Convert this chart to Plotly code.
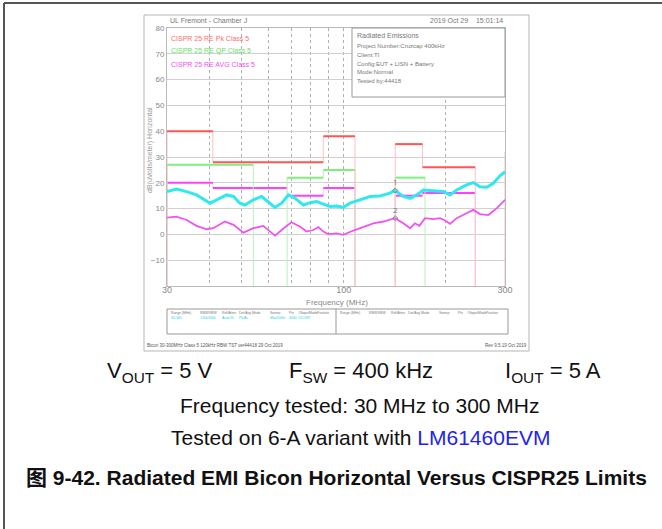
"""Radiated EMI, bicon horizontal, vs CISPR 25 class 5 limits"""
import math
import plotly.graph_objects as go

# --- limit lines (band start MHz, band stop MHz, level dBuV/m) ---
pk_start = [30, 41, 87, 142, 171, 300]
pk_stop = [41, 87, 108, 171, 245, 330]
pk_level = [40, 28, 38, 35, 26, 32]

qp_start = [30, 68, 87, 142]
qp_stop = [54, 87, 108, 174]
qp_level = [27, 22, 25, 22]

avg_start = [30, 41, 68, 87, 142, 171]
avg_stop = [41, 68, 87, 108, 171, 245]
avg_level = [20, 18, 15, 18, 15, 16]

# --- measured peak trace (cyan) ---
peak_freq = [30.0, 32.0, 34.3, 36.7, 39.3, 40.2, 42.1, 45.0, 47.2, 49.3, 51.0,
             54.0, 57.2, 59.8, 62.6, 65.5, 68.6, 71.8, 76.0, 79.5, 83.2, 87.0,
             91.1, 95.3, 99.7, 104.4, 111.7, 119.6, 128.0, 137.0, 141.8, 150.1,
             157.1, 164.4, 172.0, 184.1, 197.1, 206.3, 215.8, 231.1, 241.8,
             253.0, 264.8, 277.1, 290.0, 300.0]
peak_level = [16.6, 17.6, 16.6, 15.3, 12.9, 12.1, 13.4, 15.3, 14.7, 12.1, 11.4,
              13.4, 14.7, 12.7, 10.5, 12.1, 15.3, 14.0, 11.4, 12.3, 12.7, 11.7,
              10.8, 11.0, 10.5, 12.1, 13.4, 14.7, 14.9, 16.0, 17.0, 14.7,
              14.0, 15.3, 17.2, 17.0, 16.6, 15.3, 17.2, 19.2, 20.1,
              18.5, 18.3, 19.8, 22.7, 24.3]

# --- measured average trace (magenta) ---
avg_freq = [30.0, 32.0, 34.3, 36.7, 39.3, 41.1, 44.5, 47.2, 50.5, 54.0, 57.8,
            60.5, 62.6, 65.5, 70.0, 74.3, 77.7, 81.3, 84.1, 87.0, 90.0, 95.3,
            99.7, 106.8, 114.3, 122.3, 131.0, 141.8, 150.1, 157.1, 162.5, 167.4,
            174.0, 184.1, 192.7, 199.4, 206.3, 215.8, 228.4, 241.8, 253.0,
            267.8, 283.4, 300.0]
avg_meas = [6.5, 6.9, 5.6, 3.3, 2.0, 2.4, 5.0, 3.7, 0.7, 2.4, 3.3,
            1.1, -0.5, 1.7, 4.7, 3.0, 1.1, 1.7, 2.8, 1.1, 0.1, 0.4,
            -0.2, 1.5, 3.0, 4.3, 5.0, 6.3, 4.3, 2.4, 4.3, 3.3,
            6.3, 5.9, 6.3, 5.4, 4.1, 6.3, 7.9, 9.5, 7.9,
            7.5, 10.1, 13.4]

# markers 1 and 2
mk_freq = [142, 142]
mk_level = [17.0, 6.3]
mk_label = ["1", "2"]

# x tick labels
x_ticks = [30, 100, 300]

FLOOR = -20
W, H = 662, 529
L, R, T, B = 167, 505, 28, 286   # plot area in pixels


def px(x):
    return (x - L) / (R - L)


def py(y):
    return (B - y) / (B - T)


def step_traces(starts, stops, levels, color, edge_color, name):
    hx, hy, vx, vy = [], [], [], []
    for i in range(len(starts)):
        hx += [starts[i], stops[i], None]
        hy += [levels[i], levels[i], None]
        # rising edge
        if i > 0 and stops[i - 1] == starts[i]:
            vx += [starts[i], starts[i], None]
            vy += [levels[i - 1], levels[i], None]
        else:
            vx += [starts[i], starts[i], None]
            vy += [FLOOR, levels[i], None]
        # falling edge
        if i == len(starts) - 1 or starts[i + 1] != stops[i]:
            vx += [stops[i], stops[i], None]
            vy += [levels[i], FLOOR, None]
    return [
        go.Scatter(x=vx, y=vy, mode="lines", line=dict(color=edge_color, width=1),
                   showlegend=False, hoverinfo="skip"),
        go.Scatter(x=hx, y=hy, mode="lines", line=dict(color=color, width=2),
                   name=name, showlegend=False),
    ]


fig = go.Figure()
for tr in step_traces(avg_start, avg_stop, avg_level, "#ff40ff", "#ffc8ff", "AVG"):
    fig.add_trace(tr)
for tr in step_traces(qp_start, qp_stop, qp_level, "#7ef07e", "#b8f0b8", "QP"):
    fig.add_trace(tr)
for tr in step_traces(pk_start, pk_stop, pk_level, "#ff5555", "#ffc0c0", "Pk"):
    fig.add_trace(tr)

fig.add_trace(go.Scatter(x=peak_freq, y=peak_level, mode="lines",
                         line=dict(color="#30e8ee", width=3), showlegend=False))
fig.add_trace(go.Scatter(x=avg_freq, y=avg_meas, mode="lines",
                         line=dict(color="#ee55ee", width=1.8), showlegend=False))
fig.add_trace(go.Scatter(x=mk_freq, y=mk_level, mode="markers+text",
                         marker=dict(symbol="diamond-open", size=4, color="#888"),
                         text=mk_label, textposition="top center",
                         textfont=dict(size=8, color="#777"), showlegend=False))
# x tick labels drawn just under the axis, as on the analyser plot
fig.add_trace(go.Scatter(x=x_ticks, y=[FLOOR] * len(x_ticks), mode="text",
                         text=[str(v) for v in x_ticks], textposition="bottom center",
                         textfont=dict(family="Liberation Sans", size=9, color="#888"),
                         cliponaxis=False, showlegend=False, hoverinfo="skip"))

x_lo = math.log10(min(x_ticks)) - 1e-6
x_hi = math.log10(max(x_ticks)) + 1e-6
fig.update_xaxes(type="log", range=[x_lo, x_hi],
                 tickvals=[30, 100, 300], showticklabels=False,
                 showgrid=True, gridcolor="#b0b0b0", griddash="dot", gridwidth=1,
                 minor=dict(tickvals=[40, 50, 60, 70, 80, 90, 200], showgrid=True,
                            gridcolor="#b0b0b0", griddash="dot", ticks=""),
                 showline=True, linecolor="#bbbbbb", mirror=True, ticks="",
                 zeroline=False)
fig.update_yaxes(range=[FLOOR, 80], tickvals=list(range(-10, 81, 10)),
                 showgrid=True, gridcolor="#d0d0d0", gridwidth=1,
                 showline=True, linecolor="#bbbbbb", mirror=True, ticks="",
                 zeroline=False,
                 tickfont=dict(family="Liberation Sans", size=8, color="#888"))

small = dict(family="Liberation Sans", size=7, color="#777")
ann = []


def text(x, y, s, font=small, xanchor="left", yanchor="middle", **kw):
    ann.append(dict(x=px(x), y=py(y), xref="paper", yref="paper", text=s,
                    showarrow=False, font=font, xanchor=xanchor,
                    yanchor=yanchor, **kw))


# header and titles
text(168, 21, "UL Fremont - Chamber J")
text(505, 21, "2019 Oct 29&nbsp;&nbsp;&nbsp;&nbsp;15:01:14", xanchor="right")
text(337, 302, "Frequency (MHz)", font=dict(family="Liberation Sans", size=8, color="#888"),
     xanchor="center")
text(150, 150, "dB(uVolts/meter) Horizontal", xanchor="center", textangle=-90,
     font=dict(family="Liberation Sans", size=7, color="#999"))

# legend texts
text(169, 39, "CISPR 25 RE Pk Class 5", font=dict(family="Liberation Sans", size=7, color="#ff6b6b"))
text(169, 51, "CISPR 25 RE QP Class 5", font=dict(family="Liberation Sans", size=7, color="#66e066"))
text(169, 64, "CISPR 25 RE AVG Class 5", font=dict(family="Liberation Sans", size=7, color="#f050f0"))

# info box text
text(355, 35, "Radiated Emissions")
info = ["Project Number:Cruzcap 400kHz", "Client:TI", "Config:EUT + LISN + Battery",
        "Mode:Normal", "Tested by:44418"]
for i, s in enumerate(info):
    text(355, 46 + i * 8.8, s, font=dict(family="Liberation Sans", size=6, color="#777"))

# settings table
tiny = dict(family="Liberation Sans", size=3.4, color="#777")
tiny_c = dict(family="Liberation Sans", size=3.4, color="#19d0e0")
cols = [169, 198, 220, 237, 268, 287, 296, 315]
heads = ["Range (MHz)", "RBW/VBW", "Ref/Atten", "Det/Avg Mode", "Sweep", "Pts",
         "#Swps/Mode", "Position"]
vals = ["30-300", "120k/300k", "Auto/10", "Pk/Av", "Max/5kHz", "4000", "1/CONT"]
for c, h in zip(cols, heads):
    text(c, 313, h, font=tiny)
    text(c + 169, 313, h, font=tiny)
for c, v in zip(cols, vals):
    text(c, 318, v, font=tiny_c)

# footer
text(145, 345, "Bicon 30-300MHz Class 5 120kHz RBW TST ver44418 29 Oct 2019",
     font=dict(family="Liberation Sans", size=4.5, color="#555"))
text(529, 345, "Rev 9.5.19 Oct 2019", xanchor="right",
     font=dict(family="Liberation Sans", size=4.5, color="#555"))

# captions under the chart
cap = dict(family="Liberation Sans", size=22, color="#111")
text(160, 372, "V<sub>OUT</sub> = 5 V", font=cap, xanchor="center")
text(361, 372, "F<sub>SW</sub> = 400 kHz", font=cap, xanchor="center")
text(553, 372, "I<sub>OUT</sub> = 5 A", font=cap, xanchor="center")
cap2 = dict(family="Liberation Sans", size=21, color="#111")
text(360, 405, "Frequency tested: 30 MHz to 300 MHz", font=cap2, xanchor="center")
text(360, 437, "Tested on 6-A variant with <span style='color:#2323ee'>LM61460EVM</span>",
     font=cap2, xanchor="center")
text(336, 477, "<b>图 9-42. Radiated EMI Bicon Horizontal Versus CISPR25 Limits</b>",
     font=dict(family="Liberation Sans, Noto Sans CJK SC", size=21, color="#111"),
     xanchor="center")

shapes = [
    # page frame
    dict(type="line", x0=px(4), x1=px(W), y0=py(3), y1=py(3), line=dict(color="#555", width=2)),
    dict(type="line", x0=px(4), x1=px(4), y0=py(3), y1=py(H), line=dict(color="#555", width=2)),
    # chart image box
    dict(type="rect", x0=px(144), x1=px(529), y0=py(15), y1=py(351),
         line=dict(color="#b5b5b5", width=1), layer="below"),
    # info box
    dict(type="rect", x0=px(352), x1=px(505), y0=py(28), y1=py(97),
         line=dict(color="#999", width=1), fillcolor="white", layer="above"),
    # settings table
    dict(type="rect", x0=px(167), x1=px(508), y0=py(309), y1=py(334),
         line=dict(color="#999", width=1)),
    dict(type="line", x0=px(336), x1=px(336), y0=py(309), y1=py(334),
         line=dict(color="#999", width=1)),
]
for s in shapes:
    s["xref"] = "paper"
    s["yref"] = "paper"

fig.update_layout(width=W, height=H, margin=dict(l=L, r=W - R, t=T, b=H - B),
                  paper_bgcolor="white", plot_bgcolor="white",
                  annotations=ann, shapes=shapes, showlegend=False)

fig.write_html("out.html", config={"displayModeBar": False},
               post_script="document.body.style.margin='0';document.body.style.overflow='hidden';")
